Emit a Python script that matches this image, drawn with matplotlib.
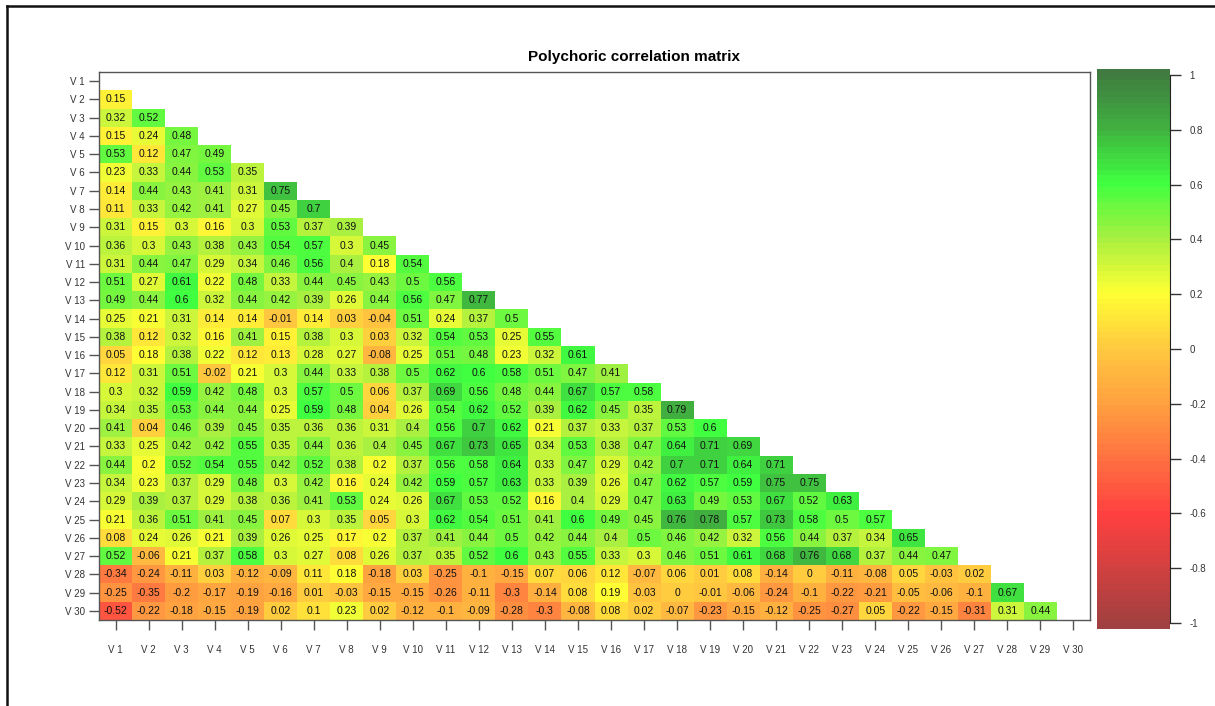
import matplotlib.pyplot as plt
import numpy as np
from matplotlib.colors import LinearSegmentedColormap, ListedColormap, BoundaryNorm
from matplotlib.lines import Line2D

plt.rcParams['font.family'] = ['Liberation Sans', 'DejaVu Sans']

labels = ['V %d' % i for i in range(1, 31)]
key_ticks = [-1, -0.8, -0.6, -0.4, -0.2, 0, 0.2, 0.4, 0.6, 0.8, 1]
key_labels = ['-1', '-0.8', '-0.6', '-0.4', '-0.2', '0', '0.2', '0.4', '0.6', '0.8', '1']

# lower triangle of the polychoric correlation matrix, row i holds columns 1..i-1
rows = [
    [],
    [0.15],
    [0.32, 0.52],
    [0.15, 0.24, 0.48],
    [0.53, 0.12, 0.47, 0.49],
    [0.23, 0.33, 0.44, 0.53, 0.35],
    [0.14, 0.44, 0.43, 0.41, 0.31, 0.75],
    [0.11, 0.33, 0.42, 0.41, 0.27, 0.45, 0.7],
    [0.31, 0.15, 0.3, 0.16, 0.3, 0.53, 0.37, 0.39],
    [0.36, 0.3, 0.43, 0.38, 0.43, 0.54, 0.57, 0.3, 0.45],
    [0.31, 0.44, 0.47, 0.29, 0.34, 0.46, 0.56, 0.4, 0.18, 0.54],
    [0.51, 0.27, 0.61, 0.22, 0.48, 0.33, 0.44, 0.45, 0.43, 0.5, 0.56],
    [0.49, 0.44, 0.6, 0.32, 0.44, 0.42, 0.39, 0.26, 0.44, 0.56, 0.47, 0.77],
    [0.25, 0.21, 0.31, 0.14, 0.14, -0.01, 0.14, 0.03, -0.04, 0.51, 0.24, 0.37, 0.5],
    [0.38, 0.12, 0.32, 0.16, 0.41, 0.15, 0.38, 0.3, 0.03, 0.32, 0.54, 0.53, 0.25, 0.55],
    [0.05, 0.18, 0.38, 0.22, 0.12, 0.13, 0.28, 0.27, -0.08, 0.25, 0.51, 0.48, 0.23, 0.32, 0.61],
    [0.12, 0.31, 0.51, -0.02, 0.21, 0.3, 0.44, 0.33, 0.38, 0.5, 0.62, 0.6, 0.58, 0.51, 0.47, 0.41],
    [0.3, 0.32, 0.59, 0.42, 0.48, 0.3, 0.57, 0.5, 0.06, 0.37, 0.69, 0.56, 0.48, 0.44, 0.67, 0.57, 0.58],
    [0.34, 0.35, 0.53, 0.44, 0.44, 0.25, 0.59, 0.48, 0.04, 0.26, 0.54, 0.62, 0.52, 0.39, 0.62, 0.45, 0.35, 0.79],
    [0.41, 0.04, 0.46, 0.39, 0.45, 0.35, 0.36, 0.36, 0.31, 0.4, 0.56, 0.7, 0.62, 0.21, 0.37, 0.33, 0.37, 0.53, 0.6],
    [0.33, 0.25, 0.42, 0.42, 0.55, 0.35, 0.44, 0.36, 0.4, 0.45, 0.67, 0.73, 0.65, 0.34, 0.53, 0.38, 0.47, 0.64, 0.71, 0.69],
    [0.44, 0.2, 0.52, 0.54, 0.55, 0.42, 0.52, 0.38, 0.2, 0.37, 0.56, 0.58, 0.64, 0.33, 0.47, 0.29, 0.42, 0.7, 0.71, 0.64,
     0.71],
    [0.34, 0.23, 0.37, 0.29, 0.48, 0.3, 0.42, 0.16, 0.24, 0.42, 0.59, 0.57, 0.63, 0.33, 0.39, 0.26, 0.47, 0.62, 0.57, 0.59,
     0.75, 0.75],
    [0.29, 0.39, 0.37, 0.29, 0.38, 0.36, 0.41, 0.53, 0.24, 0.26, 0.67, 0.53, 0.52, 0.16, 0.4, 0.29, 0.47, 0.63, 0.49, 0.53,
     0.67, 0.52, 0.63],
    [0.21, 0.36, 0.51, 0.41, 0.45, 0.07, 0.3, 0.35, 0.05, 0.3, 0.62, 0.54, 0.51, 0.41, 0.6, 0.49, 0.45, 0.76, 0.78, 0.57,
     0.73, 0.58, 0.5, 0.57],
    [0.08, 0.24, 0.26, 0.21, 0.39, 0.26, 0.25, 0.17, 0.2, 0.37, 0.41, 0.44, 0.5, 0.42, 0.44, 0.4, 0.5, 0.46, 0.42, 0.32,
     0.56, 0.44, 0.37, 0.34, 0.65],
    [0.52, -0.06, 0.21, 0.37, 0.58, 0.3, 0.27, 0.08, 0.26, 0.37, 0.35, 0.52, 0.6, 0.43, 0.55, 0.33, 0.3, 0.46, 0.51, 0.61,
     0.68, 0.76, 0.68, 0.37, 0.44, 0.47],
    [-0.34, -0.24, -0.11, 0.03, -0.12, -0.09, 0.11, 0.18, -0.18, 0.03, -0.25, -0.1, -0.15, 0.07, 0.06, 0.12, -0.07, 0.06,
     0.01, 0.08, -0.14, 0, -0.11, -0.08, 0.05, -0.03, 0.02],
    [-0.25, -0.35, -0.2, -0.17, -0.19, -0.16, 0.01, -0.03, -0.15, -0.15, -0.26, -0.11, -0.3, -0.14, 0.08, 0.19, -0.03, 0,
     -0.01, -0.06, -0.24, -0.1, -0.22, -0.21, -0.05, -0.06, -0.1, 0.67],
    [-0.52, -0.22, -0.18, -0.15, -0.19, 0.02, 0.1, 0.23, 0.02, -0.12, -0.1, -0.09, -0.28, -0.3, -0.08, 0.08, 0.02, -0.07,
     -0.23, -0.15, -0.12, -0.25, -0.27, 0.05, -0.22, -0.15, -0.31, 0.31, 0.44],
]

n = len(labels)
mat = np.full((n, n), np.nan)
for i, r in enumerate(rows):
    mat[i, :len(r)] = r

stops = [(0.0, '#a04040'), (0.1, '#d04040'), (0.2, '#ff4040'), (0.3, '#ff7040'),
         (0.4, '#ffa040'), (0.5, '#ffc840'), (0.6, '#ffff33'), (0.7, '#a8f040'),
         (0.8, '#40ff40'), (0.9, '#40b040'), (1.0, '#407a40')]
base = LinearSegmentedColormap.from_list('poly', stops)
nlev = 100
cmap = ListedColormap(base(np.linspace(0, 1, nlev)))
bounds = np.linspace(-1, 1, nlev + 1)
norm = BoundaryNorm(bounds, cmap.N)

fig = plt.figure(figsize=(12.15, 7.06), dpi=100)
W, H = 1215, 706

ax = fig.add_axes([99 / W, 1 - 620 / H, (1090 - 99) / W, (620 - 72) / H])
ax.pcolormesh(np.arange(n + 1), np.arange(n + 1), np.ma.masked_invalid(mat),
              cmap=cmap, norm=norm, shading='flat')
ax.set_xlim(0, n)
ax.set_ylim(n, 0)

for i in range(n):
    for j in range(n):
        v = mat[i, j]
        if not np.isnan(v):
            ax.text(j + 0.5, i + 0.5, '%g' % v, ha='center', va='center',
                    fontsize=7.5, color='#111111')

ax.set_xticks(np.arange(n) + 0.5)
ax.set_xticklabels(labels, fontsize=7, color='#333333')
ax.set_yticks(np.arange(n) + 0.5)
ax.set_yticklabels(labels, fontsize=7, color='#333333')
ax.tick_params(axis='both', length=7, width=1, color='#555555')
ax.tick_params(axis='x', pad=11)
ax.tick_params(axis='y', pad=3)
for s in ax.spines.values():
    s.set_color('#555555')
    s.set_linewidth(1)

# colour key: the bands run a little past -1 and 1 like in R's key
cax = fig.add_axes([1097 / W, 1 - 629 / H, 73 / W, 560 / H])
cb_vals = (bounds[:-1] + bounds[1:]) / 2
key_edges = np.linspace(-1.022, 1.022, nlev + 1)
cax.pcolormesh([0, 1], key_edges, cb_vals.reshape(-1, 1), cmap=cmap, norm=norm, shading='flat')
cax.set_ylim(-1.022, 1.022)
cax.set_xlim(0, 1)
cax.set_xticks([])
cax.yaxis.tick_right()
cax.set_yticks(key_ticks)
cax.set_yticklabels(key_labels, fontsize=7, color='#333333')
cax.tick_params(axis='y', length=8, width=1, color='#333333', pad=6)
for name, s in cax.spines.items():
    s.set_visible(name == 'right')
cax.spines['right'].set_color('#222222')
cax.spines['right'].set_bounds(-1, 1)

fig.text(634 / W, 1 - 57 / H, 'Polychoric correlation matrix', ha='center', va='center',
         fontsize=11, fontweight='bold')

# outer frame
fig.add_artist(Line2D([7 / W, 1], [1 - 6 / H, 1 - 6 / H], color='#111111', lw=1.8))
fig.add_artist(Line2D([7 / W, 7 / W], [0, 1 - 6 / H], color='#111111', lw=1.8))

fig.savefig('out.png', dpi=100)
